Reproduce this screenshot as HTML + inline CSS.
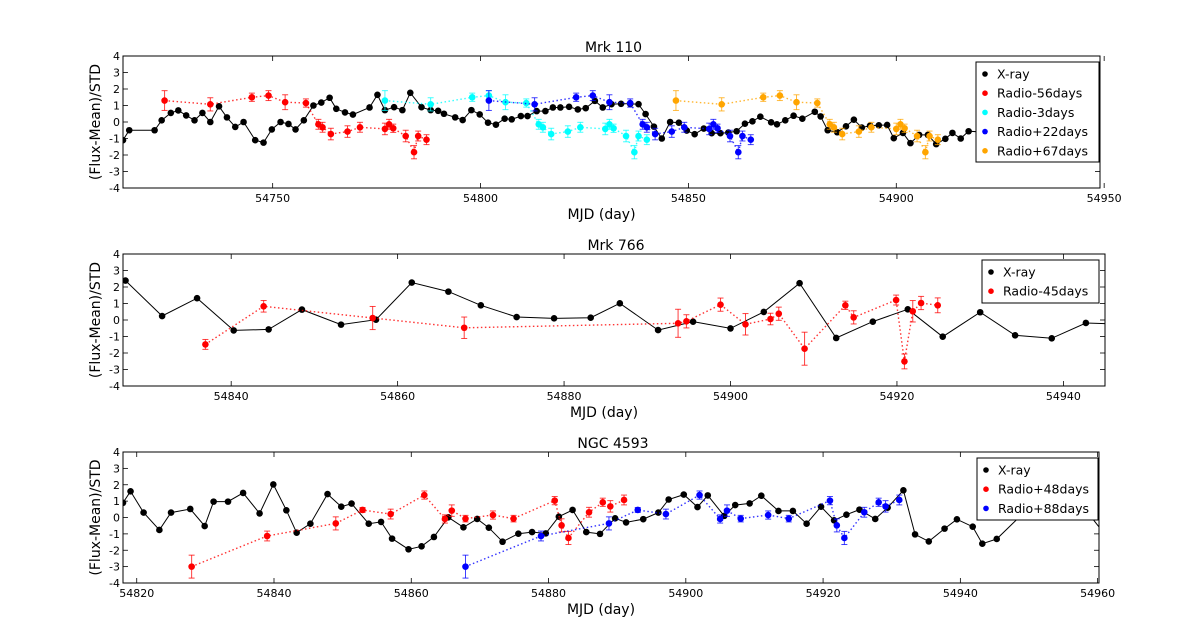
<!DOCTYPE html>
<html><head><meta charset="utf-8">
<style>
html,body{margin:0;padding:0;background:#fff;}
svg{display:block;font-family:"DejaVu Sans","Liberation Sans",sans-serif;}
</style></head>
<body>
<svg id="chart" width="1196" height="640" viewBox="0 0 1196 640"></svg>
<script>
// ---------- Panel 1: Mrk 110 ----------
const p1XrayDays=[54714,54715.5,54721.6,54723.3,54725.5,54727.3,54729.2,54731.2,54733.1,54735,54737.1,54739,54741,54743,54745.8,54747.8,54749.8,54751.9,54753.8,54755.5,54757.5,54759.8,54761.7,54763.7,54765.3,54767.4,54769.3,54773.3,54775.2,54777,54779.2,54781.2,54783.1,54785.8,54788,54789.8,54791.2,54793.9,54795.7,54797.8,54799.8,54801.8,54803.7,54805.8,54807.5,54809.7,54811.3,54813.5,54815.6,54817.4,54819.2,54821.3,54823.4,54825.3,54827.5,54829.4,54831.5,54833.8,54836,54838,54839.7,54841.7,54843.6,54845.6,54847.7,54849.6,54851.5,54853.7,54855.6,54857.7,54859.6,54861.6,54863.6,54865.4,54867.3,54869.9,54871.3,54873.3,54875.3,54877.4,54880.4,54881.8,54883.5,54885.8,54887.9,54889.8,54891.7,54893.7,54895.8,54897.8,54899.4,54901.6,54903.4,54905.5,54907.6,54909.6,54911.8,54913.5,54915.5,54917.4,54920,54930,54940,54949];
const p1XrayVals=[-1.1,-0.5,-0.5,0.1,0.55,0.7,0.4,0.1,0.55,0.0,0.95,0.28,-0.3,0.0,-1.1,-1.25,-0.45,0.0,-0.12,-0.45,0.1,1.0,1.18,1.47,0.8,0.58,0.45,0.88,1.65,0.72,0.9,0.72,1.77,0.9,0.72,0.68,0.5,0.28,0.12,0.72,0.46,-0.04,-0.16,0.2,0.16,0.36,0.36,0.66,0.66,0.88,0.88,0.92,0.76,0.84,1.28,0.88,1.08,1.1,1.1,1.08,0.48,-0.28,-1.0,0.0,-0.04,-0.52,-0.74,-0.4,-0.68,-0.68,-0.64,-0.56,-0.1,0.04,0.32,-0.02,-0.14,0.1,0.38,0.2,0.62,0.34,-0.5,-0.62,-0.26,0.14,-0.34,-0.22,-0.2,-0.18,-0.98,-0.66,-1.28,-0.78,-0.78,-1.34,-1.02,-0.66,-1.0,-0.56,-0.6,0.1,0.3,0.55];
const p1RadioVals=[1.3,1.07,1.5,1.6,1.2,1.15,-0.14,-0.32,-0.73,-0.58,-0.32,-0.42,-0.14,-0.38,-0.85,-1.83,-0.85,-1.07];
const p1RadioErrs=[0.6,0.4,0.25,0.3,0.45,0.25,0.3,0.3,0.35,0.35,0.3,0.35,0.3,0.25,0.35,0.4,0.3,0.3];
const p1R56Days=[54724,54735,54745,54749,54753,54758,54761,54762,54764,54768,54771,54777,54778,54779,54782,54784,54785,54787];
const p1R3Days=[54777,54788,54798,54802,54806,54811,54814,54815,54817,54821,54824,54830,54831,54832,54835,54837,54838,54840];
const p1R22Days=[54802,54813,54823,54827,54831,54836,54839,54840,54842,54846,54849,54855,54856,54857,54860,54862,54863,54865];
const p1R67Days=[54847,54858,54868,54872,54876,54881,54884,54885,54887,54891,54894,54900,54901,54902,54905,54907,54908,54910];
const p1XTicks=[54750,54800,54850,54900,54950];

// ---------- Panel 2: Mrk 766 ----------
const p2XrayDays=[54827.3,54831.7,54835.9,54840.3,54844.5,54848.5,54853.2,54857.4,54861.7,54866.1,54870,54874.3,54878.8,54883.2,54886.7,54891.3,54895.5,54900,54904,54908.3,54912.7,54917.1,54921.3,54925.5,54930,54934.2,54938.6,54942.7,54947];
const p2XrayVals=[2.39,0.24,1.32,-0.63,-0.57,0.63,-0.28,0.02,2.27,1.72,0.89,0.18,0.1,0.14,1.01,-0.61,-0.1,-0.51,0.49,2.23,-1.09,-0.1,0.65,-1.01,0.47,-0.93,-1.11,-0.18,-0.25];
const p2RadioDays=[54836.9,54843.9,54857,54868,54893.7,54894.7,54898.8,54901.8,54904.8,54905.8,54908.9,54913.8,54914.8,54919.9,54920.9,54921.9,54922.9,54924.9];
const p2RadioVals=[-1.48,0.83,0.12,-0.47,-0.2,-0.08,0.93,-0.26,0.06,0.38,-1.74,0.89,0.16,1.21,-2.51,0.53,1.03,0.89];
const p2RadioErrs=[0.3,0.35,0.7,0.65,0.85,0.4,0.4,0.65,0.35,0.4,1.0,0.25,0.4,0.3,0.45,0.65,0.4,0.45];
const p2XTicks=[54840,54860,54880,54900,54920,54940];

// ---------- Panel 3: NGC 4593 ----------
const p3XrayDays=[54818,54819.1,54821,54823.3,54825,54827.8,54829.9,54831.2,54833.3,54835.5,54837.9,54839.9,54841.8,54843.3,54845.3,54847.8,54849.8,54851.3,54853.8,54855.6,54857.2,54859.6,54861.5,54863.3,54865.4,54867.6,54869.6,54871.3,54873.3,54875.6,54877.6,54879.6,54881.5,54883.5,54885.5,54887.5,54889.7,54891.3,54893.8,54896,54897.5,54899.7,54901.7,54903.2,54905.6,54907.2,54909.3,54911,54913.5,54915.6,54917.6,54919.7,54921.6,54923.4,54925.3,54927.6,54929.4,54931.7,54933.4,54935.4,54937.7,54939.5,54941.8,54943.2,54945.3,54950,54955,54958,54961];
const p3XrayVals=[0.9,1.6,0.3,-0.76,0.3,0.52,-0.52,0.97,0.97,1.5,0.25,2.02,0.44,-0.93,-0.38,1.43,0.66,0.85,-0.38,-0.27,-1.29,-1.94,-1.76,-1.19,0.01,-0.6,-0.09,-0.62,-1.48,-0.99,-0.89,-0.97,0.05,0.46,-0.89,-1.0,-0.05,-0.3,-0.1,0.3,1.1,1.4,0.64,1.35,0.1,0.76,0.86,1.33,0.4,0.4,-0.38,0.66,-0.17,0.17,0.48,-0.09,0.6,1.66,-1.03,-1.46,-0.68,-0.11,-0.56,-1.6,-1.31,0.6,0.8,0.6,-1.0];
const p3RadioVals=[-3.0,-1.13,-0.36,0.46,0.21,1.37,-0.09,0.42,-0.07,0.15,-0.07,1.03,-0.48,-1.25,0.32,0.93,0.68,1.07];
const p3RadioErrs=[0.7,0.3,0.4,0.15,0.3,0.25,0.25,0.35,0.2,0.25,0.2,0.25,0.4,0.4,0.3,0.25,0.35,0.3];
const p3R48Days=[54828,54839,54849,54852.9,54857,54861.9,54864.9,54865.9,54867.9,54871.9,54874.9,54880.9,54881.9,54882.9,54885.9,54887.9,54889,54891];
const p3R88Days=[54867.9,54878.9,54888.8,54893,54897.1,54902,54905,54906,54908,54912,54915,54921,54922,54923.1,54926,54928.1,54929.1,54931.1];
const p3XTicks=[54820,54840,54860,54880,54900,54920,54940,54960];

const yTicks=[4,3,2,1,0,-1,-2,-3,-4];

const NS='http://www.w3.org/2000/svg';
const svg=document.getElementById('chart');
function mk(tag,attrs,parent){const e=document.createElementNS(NS,tag);for(const k in attrs)e.setAttribute(k,attrs[k]);(parent||svg).appendChild(e);return e;}

function panel(cfg){
  const g=mk('g',{});
  
  
  const L=cfg.left,R=cfg.right,T=cfg.top,B=cfg.bottom;
  const xs=d=>L+(d-cfg.x0)/(cfg.x1-cfg.x0)*(R-L);
  const ys=v=>T+(4-v)/8*(B-T);
  const clipId='clip-'+cfg.name;
  const cp=mk('clipPath',{id:clipId},g);
  mk('rect',{x:L,y:T,width:R-L,height:B-T},cp);
  const t=mk('text',{x:(L+R)/2+2,y:T-4,'text-anchor':'middle','font-size':14,fill:'#000'},g);
  t.textContent=cfg.title;
  
  
  const yl=mk('text',{x:0,y:0,'text-anchor':'middle','font-size':14,transform:`translate(${L-23},${(T+B)/2}) rotate(-90)`},g);
  yl.textContent='(Flux-Mean)/STD';
  
  
  const xl=mk('text',{x:(L+R)/2-10,y:B+31,'text-anchor':'middle','font-size':14},g);
  xl.textContent='MJD (day)';
  
  
  yTicks.forEach(v=>{
    const y=ys(v);
    mk('line',{x1:L,x2:L+5,y1:y,y2:y,stroke:'#000','stroke-width':0.8},g);
    mk('line',{x1:R,x2:R-5,y1:y,y2:y,stroke:'#000','stroke-width':0.8},g);
    const tl=mk('text',{x:L-3,y:y+4,'text-anchor':'end','font-size':11},g);
    tl.textContent=String(v);
    
    
  });
  cfg.xticks.forEach(d=>{
    const x=xs(d);
    mk('line',{x1:x,x2:x,y1:B,y2:B-5,stroke:'#000','stroke-width':0.8},g);
    mk('line',{x1:x,x2:x,y1:T,y2:T+5,stroke:'#000','stroke-width':0.8},g);
    const tl=mk('text',{x:x,y:B+14,'text-anchor':'middle','font-size':11},g);
    tl.textContent=String(d);
    
    
  });
  const pg=mk('g',{'clip-path':`url(#${clipId})`},g);
  cfg.series.forEach(s=>{
    const sg=mk('g',{},pg);
    
    
    const pts=s.days.map((d,i)=>xs(d).toFixed(1)+','+ys(s.vals[i]).toFixed(1)).join(' ');
    const pl=mk('polyline',{points:pts,fill:'none',stroke:s.color,'stroke-width':s.dotted?1.4:1,'stroke-dasharray':s.dotted?'1.5,2.5':'none',opacity:s.dotted?0.8:1},sg);
    
    
    s.days.forEach((d,i)=>{
      const x=xs(d),y=ys(s.vals[i]);
      if(s.errs){
        const e=s.errs[i];
        const y1=ys(s.vals[i]+e),y2=ys(s.vals[i]-e);
        mk('line',{x1:x,x2:x,y1:y1,y2:y2,stroke:s.color,'stroke-width':1,opacity:0.75},sg);
        mk('line',{x1:x-3,x2:x+3,y1:y1,y2:y1,stroke:s.color,'stroke-width':1,opacity:0.75},sg);
        mk('line',{x1:x-3,x2:x+3,y1:y2,y2:y2,stroke:s.color,'stroke-width':1,opacity:0.75},sg);
      }
      const c=mk('circle',{cx:x,cy:y,r:3.3,fill:s.color},sg);
      
      
    });
  });
  mk('rect',{x:L,y:T,width:R-L,height:B-T,fill:'none',stroke:'#000','stroke-width':1},g);
  const lg=mk('g',{},g);
  
  
  const lb=cfg.legend;
  mk('rect',{x:lb.x,y:lb.y,width:lb.w,height:lb.h,fill:'#fff',stroke:'#000','stroke-width':1},lg);
  cfg.series.forEach((s,i)=>{
    const yy=lb.y+12+i*19.2;
    const eg=mk('g',{},lg);
    
    
    mk('circle',{cx:lb.x+9,cy:yy,r:2.8,fill:s.color},eg);
    const tx=mk('text',{x:lb.x+21,y:yy+4.5,'font-size':12.5},eg);
    tx.textContent=s.label;
  });
}

panel({name:'panel-mrk110',title:'Mrk 110',left:123,right:1100,top:56,bottom:188,x0:54714,x1:54949,xticks:p1XTicks,
  legend:{x:976,y:62,w:123,h:100},
  series:[
    {id:'xray',label:'X-ray',color:'#000',days:p1XrayDays,vals:p1XrayVals},
    {id:'radio-56days',label:'Radio-56days',color:'#ff0000',dotted:true,days:p1R56Days,vals:p1RadioVals,errs:p1RadioErrs},
    {id:'radio-3days',label:'Radio-3days',color:'#00ffff',dotted:true,days:p1R3Days,vals:p1RadioVals,errs:p1RadioErrs},
    {id:'radio-plus22days',label:'Radio+22days',color:'#0000ff',dotted:true,days:p1R22Days,vals:p1RadioVals,errs:p1RadioErrs},
    {id:'radio-plus67days',label:'Radio+67days',color:'#ffa500',dotted:true,days:p1R67Days,vals:p1RadioVals,errs:p1RadioErrs}
  ]});
panel({name:'panel-mrk766',title:'Mrk 766',left:123,right:1105,top:254,bottom:386,x0:54827,x1:54945,xticks:p2XTicks,
  legend:{x:982,y:260,w:117,h:43},
  series:[
    {id:'xray',label:'X-ray',color:'#000',days:p2XrayDays,vals:p2XrayVals},
    {id:'radio-45days',label:'Radio-45days',color:'#ff0000',dotted:true,days:p2RadioDays,vals:p2RadioVals,errs:p2RadioErrs}
  ]});
panel({name:'panel-ngc4593',title:'NGC 4593',left:123,right:1099,top:452,bottom:583,x0:54818,x1:54960.2,xticks:p3XTicks,
  legend:{x:977,y:458,w:121,h:62},
  series:[
    {id:'xray',label:'X-ray',color:'#000',days:p3XrayDays,vals:p3XrayVals},
    {id:'radio-plus48days',label:'Radio+48days',color:'#ff0000',dotted:true,days:p3R48Days,vals:p3RadioVals,errs:p3RadioErrs},
    {id:'radio-plus88days',label:'Radio+88days',color:'#0000ff',dotted:true,days:p3R88Days,vals:p3RadioVals,errs:p3RadioErrs}
  ]});
</script>
</body></html>
